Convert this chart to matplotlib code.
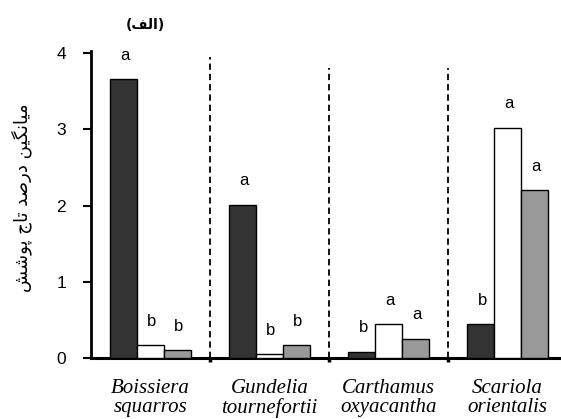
import matplotlib
matplotlib.use("Agg")
import matplotlib.pyplot as plt
import numpy as np

# ---------------------------------------------------------------- data
groups = ["Boissiera\nsquarros", "Gundelia\ntournefortii",
          "Carthamus\noxyacantha", "Scariola\norientalis"]
dark_vals = [3.66, 2.01, 0.08, 0.44]
white_vals = [0.17, 0.05, 0.44, 3.02]
gray_vals = [0.10, 0.17, 0.25, 2.20]
dark_letters = ["a", "a", "b", "b"]
white_letters = ["b", "b", "a", "a"]
gray_letters = ["b", "b", "a", "a"]
sep_tops = [3.95, 3.80, 3.80]
y_ticks = [0, 1, 2, 3, 4]
y_label = "میانگین درصد تاج پوشش"
panel_label = "الف"

# ---------------------------------------------------------------- simple arabic shaping
# (isolated, final, initial, medial); right-joining letters have no init/medi
FORMS = {
    "ا": ("\uFE8D", "\uFE8E", None, None),
    "د": ("\uFEA9", "\uFEAA", None, None),
    "ر": ("\uFEAD", "\uFEAE", None, None),
    "و": ("\uFEED", "\uFEEE", None, None),
    "ت": ("\uFE95", "\uFE96", "\uFE97", "\uFE98"),
    "ج": ("\uFE9D", "\uFE9E", "\uFE9F", "\uFEA0"),
    "ش": ("\uFEB5", "\uFEB6", "\uFEB7", "\uFEB8"),
    "ص": ("\uFEB9", "\uFEBA", "\uFEBB", "\uFEBC"),
    "ف": ("\uFED1", "\uFED2", "\uFED3", "\uFED4"),
    "ل": ("\uFEDD", "\uFEDE", "\uFEDF", "\uFEE0"),
    "م": ("\uFEE1", "\uFEE2", "\uFEE3", "\uFEE4"),
    "ن": ("\uFEE5", "\uFEE6", "\uFEE7", "\uFEE8"),
    "پ": ("\uFB56", "\uFB57", "\uFB58", "\uFB59"),
    "گ": ("\uFB92", "\uFB93", "\uFB94", "\uFB95"),
    "ی": ("\uFBFC", "\uFBFD", "\uFBFE", "\uFBFF"),
}


def shape(text):
    out = []
    for i, ch in enumerate(text):
        if ch not in FORMS:
            out.append(ch)
            continue
        prev = text[i - 1] if i > 0 else ""
        nxt = text[i + 1] if i + 1 < len(text) else ""
        j_prev = prev in FORMS and FORMS[prev][2] is not None
        j_next = FORMS[ch][2] is not None and nxt in FORMS
        f = FORMS[ch]
        if j_prev and j_next:
            out.append(f[3])
        elif j_prev:
            out.append(f[1])
        elif j_next:
            out.append(f[2])
        else:
            out.append(f[0])
    return "".join(out)[::-1]


# ---------------------------------------------------------------- plot
fig = plt.figure(figsize=(5.61, 4.19), dpi=100)
ax = fig.add_axes([91 / 561, 61 / 419, 470 / 561, 306.5 / 419])

x = np.arange(len(groups))
w = 0.225
kw = dict(width=w, edgecolor="black", linewidth=1.0, zorder=3)
b1 = ax.bar(x - w, dark_vals, color="#333333", **kw)
b2 = ax.bar(x, white_vals, color="white", **kw)
b3 = ax.bar(x + w, gray_vals, color="#999999", **kw)

for bars, letters in [(b1, dark_letters), (b2, white_letters), (b3, gray_letters)]:
    for bar, lt in zip(bars, letters):
        ax.annotate(lt, (bar.get_x() + bar.get_width() / 2, bar.get_height()),
                    xytext=(1, 14), textcoords="offset points",
                    ha="center", va="baseline", fontsize=12,
                    family="Liberation Sans")

for xs, top in zip([0.5, 1.5, 2.5], sep_tops):
    ax.plot([xs, xs], [0, top], color="black", lw=1.3,
            dashes=(3.5, 2.2), zorder=2)

ax.set_xlim(-0.5, -0.5 + 470 / 119)
ax.set_ylim(0, 4.02)
ax.set_yticks(y_ticks)
ax.set_yticklabels([str(t) for t in y_ticks], family="Liberation Sans", fontsize=12.5)
ax.set_xticks([0.5, 1.5, 2.5])
ax.set_xticklabels([])
ax.tick_params(axis="y", direction="out", length=6, width=1.5, pad=12)
ax.tick_params(axis="x", direction="out", length=3, width=2.5)

for s in ["top", "right"]:
    ax.spines[s].set_visible(False)
ax.spines["left"].set_linewidth(2)
ax.spines["bottom"].set_linewidth(2.2)

for xi, name in zip(x, groups):
    ax.text(xi, -0.27, name, ha="center", va="top", fontsize=15,
            family="Liberation Serif", style="italic", linespacing=1.05,
            transform=ax.transData)

fig.text(22 / 561, 1 - 198 / 419, shape(y_label), rotation=90,
         ha="center", va="center", fontsize=13, family="DejaVu Sans")
fig.text(145 / 561, 1 - 25 / 419, "(" + shape(panel_label) + ")",
         ha="center", va="center", fontsize=10, fontweight="bold",
         family="DejaVu Sans")

fig.savefig("out.png", dpi=100)
